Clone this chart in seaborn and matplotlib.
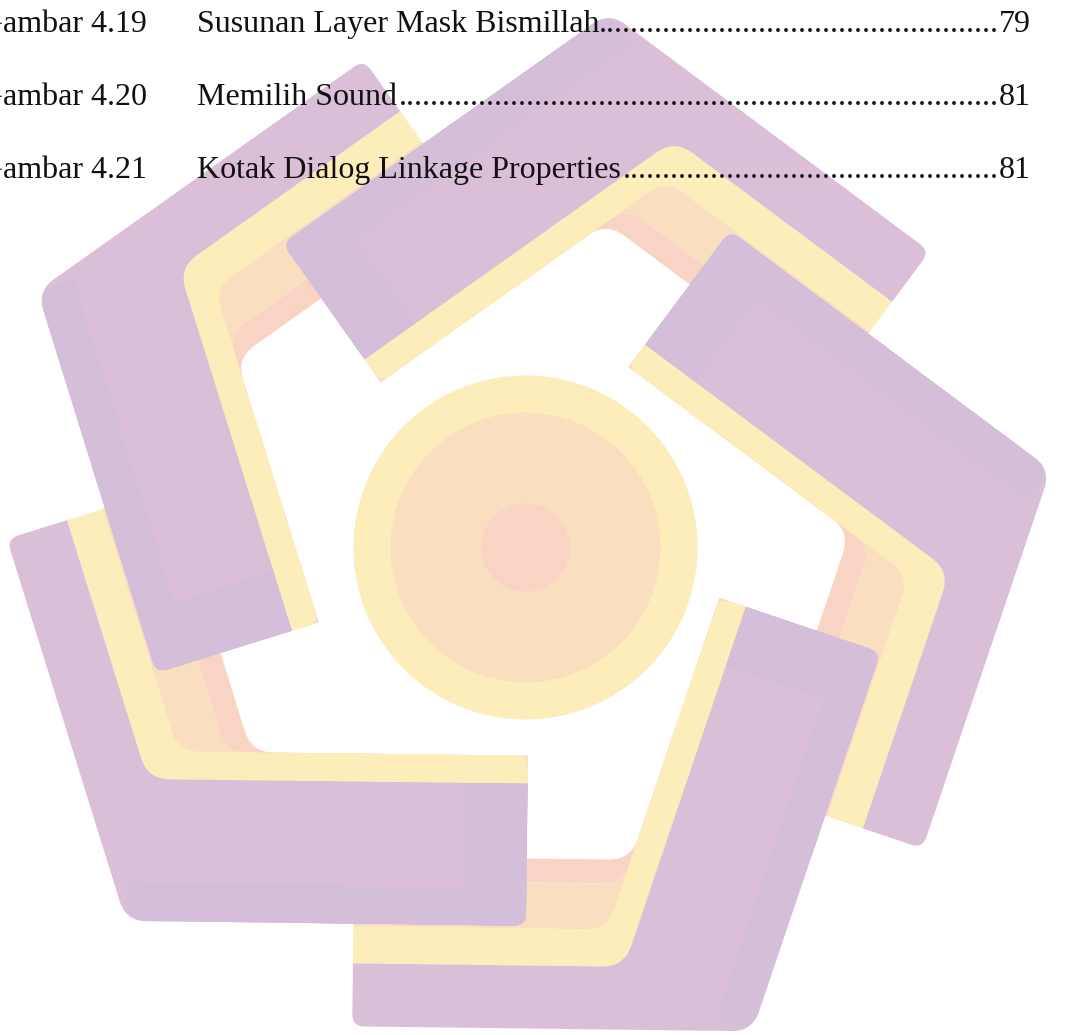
import numpy as np
import matplotlib
matplotlib.use("Agg")
import matplotlib.pyplot as plt
from matplotlib.patches import PathPatch, Circle
from matplotlib.path import Path
import seaborn as sns

# list-of-figures rows
fig_labels = ["Gambar 4.19", "Gambar 4.20", "Gambar 4.21"]
fig_titles = ["Susunan Layer Mask Bismillah", "Memilih Sound", "Kotak Dialog Linkage Properties"]
fig_pages = ["79", "81", "81"]
title_gaps = [0, 6, 6]

# logo colours
purple = "#DBBED7"
lavender = "#D5BEDA"
yellow = "#FCEDBB"
peach = "#FADEC0"
pink = "#F9D3C4"

# logo geometry, in pixels of the page
logo_center = (515, 545)
logo_radius = 541
first_angle = -80
arm_tilt = -9.3
leg_len = 400
# band offsets from the outer edge: (wide leg range, narrow leg range)
band_colors = [pink, peach, yellow, purple]
wide_offsets = [(142, 170), (142, 170), (142, 170), (0, 142)]
narrow_offsets = [(146, 170), (100, 146), (63, 100), (0, 63)]
r_apex, r_corner, r_end = 20, 22, 12
# rounding of [endA out, corner out, endB out, endB in, corner in, endA in]
band_round = [[0, r_corner, 0, r_end, r_corner, 0],
              [0, r_corner, 0, 0, r_corner, 0],
              [0, r_corner, 0, 0, r_corner, r_end],
              [r_end, r_apex, r_end, 0, r_corner, 0]]
edge_strip = 38
end_cap = 62
overlap_start = 185

ring_center = (525.5, 547.5)
ring_radii = [172, 135, 44]
ring_colors = [yellow, peach, pink]


def unit(deg):
    r = np.radians(deg)
    return np.array([np.cos(r), np.sin(r)])


def rounded(pts, radii):
    pts = [np.asarray(p, float) for p in pts]
    n = len(pts)
    verts, codes = [], []
    for i in range(n):
        v, p, q = pts[i], pts[i - 1], pts[(i + 1) % n]
        r = radii[i]
        if r <= 0:
            verts.append(v)
            codes.append(Path.LINETO)
            continue
        d1, d2 = p - v, q - v
        l1, l2 = np.linalg.norm(d1), np.linalg.norm(d2)
        t1 = v + d1 / l1 * min(r, l1 / 2)
        t2 = v + d2 / l2 * min(r, l2 / 2)
        verts += [t1, v, t2]
        codes += [Path.LINETO, Path.CURVE3, Path.CURVE3]
    codes[0] = Path.MOVETO
    verts.append(verts[0])
    codes.append(Path.CLOSEPOLY)
    return Path(verts, codes)


def shape(ax, pts, radii, col):
    ax.add_patch(PathPatch(rounded(pts, radii), facecolor=col, edgecolor="none", lw=0))


def arm_frame(k):
    phi = first_angle + 72 * k
    apex = np.array(logo_center) + logo_radius * unit(phi)
    beta = phi + 180
    dA = unit(beta + arm_tilt + 54)
    dB = unit(beta + arm_tilt - 54)
    nA = dB - np.dot(dB, dA) * dA
    nA /= np.linalg.norm(nA)
    nB = dA - np.dot(dA, dB) * dB
    nB /= np.linalg.norm(nB)
    return apex, dA, nA, dB, nB


def band(frame, a0, a1, b0, b1):
    apex, dA, nA, dB, nB = frame

    def corner(a, b):
        s, t = np.linalg.solve(np.column_stack([dA, -dB]), b * nB - a * nA)
        return apex + s * dA + a * nA

    return [apex + leg_len * dA + a0 * nA, corner(a0, b0), apex + leg_len * dB + b0 * nB,
            apex + leg_len * dB + b1 * nB, corner(a1, b1), apex + leg_len * dA + a1 * nA]


def leg_rect(frame, s0, s1, a0, a1):
    apex, dA, nA, dB, nB = frame
    return [apex + s0 * dA + a0 * nA, apex + s1 * dA + a0 * nA,
            apex + s1 * dA + a1 * nA, apex + s0 * dA + a1 * nA]


def draw_wide_leg(ax, frame, s0, base=True):
    if base:
        shape(ax, leg_rect(frame, s0, leg_len, *wide_offsets[2]), [0, 0, r_end, 0], yellow)
        shape(ax, leg_rect(frame, s0, leg_len, *wide_offsets[3]), [0, r_end, 0, 0], purple)
    shape(ax, leg_rect(frame, s0, leg_len, 0, edge_strip), [r_apex if s0 == 0 else 0, r_end, 0, 0], lavender)
    shape(ax, leg_rect(frame, max(s0, leg_len - end_cap), leg_len, 0, wide_offsets[3][1]),
          [0, r_end, 0, 0], lavender)


sns.set_theme(style="white")
plt.rcParams["font.family"] = ["Liberation Serif", "DejaVu Serif"]

fig = plt.figure(figsize=(10.67, 10.35), dpi=100)
ax = fig.add_axes([0, 0, 1, 1])
ax.set_xlim(0, 1067)
ax.set_ylim(1035, 0)
ax.axis("off")

frames = [arm_frame(k) for k in range(5)]

# pass 1: every arm with all of its bands
for fr in frames:
    for col, (a0, a1), (b0, b1), rr in zip(band_colors, wide_offsets, narrow_offsets, band_round):
        shape(ax, band(fr, a0, a1, b0, b1), rr, col)
    draw_wide_leg(ax, fr, 0, base=False)

# pass 2: wide leg ends lie on top of the next arm's narrow leg
for fr in frames:
    draw_wide_leg(ax, fr, overlap_start)

# centre rings
for r, col in zip(ring_radii, ring_colors):
    ax.add_patch(Circle(ring_center, r, facecolor=col, edgecolor="none", lw=0))

# text rows
fs = 23
row_base = [32, 105, 178]
label_x = -20
title_x = 197
page_right = 1031
fig.canvas.draw()
renderer = fig.canvas.get_renderer()
inv = ax.transData.inverted()

dot_probe = ax.text(0, 0, "." * 40, fontsize=fs)
dot_w = dot_probe.get_window_extent(renderer).width / 40
dot_probe.remove()

for y, lab, title, page, gap in zip(row_base, fig_labels, fig_titles, fig_pages, title_gaps):
    ax.text(label_x, y, lab, fontsize=fs, color="#111111", va="baseline", ha="left", zorder=10)
    t = ax.text(title_x, y, title, fontsize=fs, color="#111111", va="baseline", ha="left", zorder=10)
    p = ax.text(page_right, y, page, fontsize=fs, color="#111111", va="baseline", ha="right", zorder=10)
    tb = t.get_window_extent(renderer)
    pb = p.get_window_extent(renderer)
    n = int(round((pb.x0 - tb.x1 - gap) / dot_w))
    x_right = inv.transform((pb.x0, 0))[0]
    ax.text(x_right, y, "." * n, fontsize=fs, color="#111111", va="baseline", ha="right", zorder=10)

fig.savefig("out.png", dpi=100)
